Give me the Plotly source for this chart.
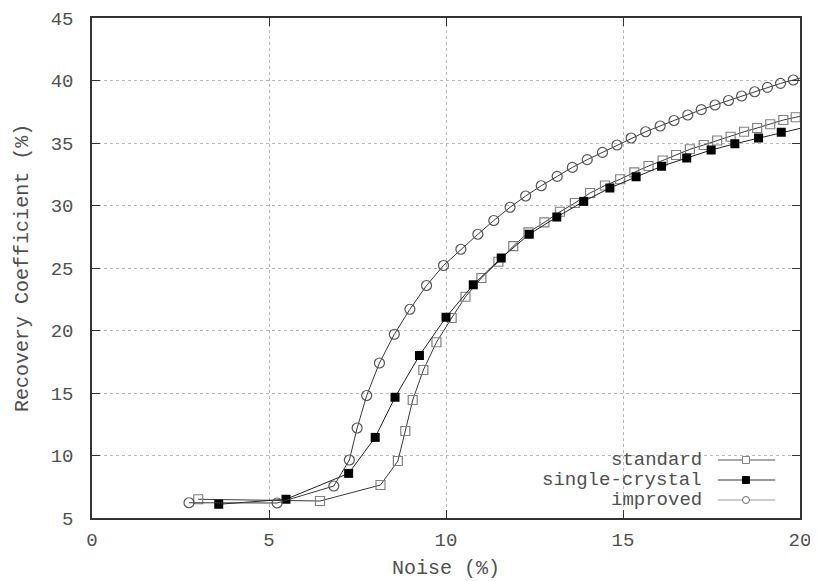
import plotly.graph_objects as go

# ---- data ----
standard_x = [3.0, 6.44, 8.15, 8.64, 8.85, 9.06, 9.36, 9.73, 10.16, 10.55, 11.0, 11.48, 11.9,
              12.33, 12.78, 13.22, 13.64, 14.07, 14.49, 14.92, 15.32, 15.72, 16.12, 16.5,
              16.89, 17.28, 17.66, 18.04, 18.42, 18.79, 19.16, 19.53, 19.88, 20.25]
standard_y = [6.5, 6.36, 7.64, 9.56, 11.96, 14.44, 16.84, 19.06, 21.0, 22.7, 24.2, 25.5, 26.75,
              27.85, 28.65, 29.5, 30.2, 31.0, 31.6, 32.1, 32.65, 33.16, 33.6, 34.04,
              34.5, 34.84, 35.2, 35.5, 35.9, 36.2, 36.5, 36.84, 37.06, 37.3]

single_x = [3.58, 5.48, 7.25, 8.0, 8.56, 9.25, 10.0, 10.77, 11.56, 12.35, 13.13, 13.89,
            14.63, 15.37, 16.09, 16.8, 17.49, 18.16, 18.83, 19.47, 20.2]
single_y = [6.1, 6.5, 8.57, 11.45, 14.66, 18.0, 21.06, 23.66, 25.8, 27.7, 29.08, 30.33,
            31.4, 32.3, 33.14, 33.8, 34.44, 34.94, 35.4, 35.86, 36.3]

improved_x = [2.74, 5.23, 6.83, 7.27, 7.49, 7.76, 8.12, 8.54, 8.98, 9.45, 9.93, 10.42, 10.9,
              11.35, 11.81, 12.25, 12.69, 13.14, 13.57, 13.99, 14.42, 14.83, 15.23, 15.64,
              16.05, 16.44, 16.83, 17.21, 17.6, 17.98, 18.35, 18.72, 19.08, 19.45, 19.81, 20.2]
improved_y = [6.22, 6.2, 7.56, 9.64, 12.2, 14.8, 17.4, 19.7, 21.7, 23.6, 25.2, 26.5, 27.7,
              28.8, 29.86, 30.76, 31.58, 32.33, 33.05, 33.67, 34.25, 34.84, 35.4, 35.9,
              36.36, 36.8, 37.24, 37.67, 38.04, 38.4, 38.76, 39.1, 39.45, 39.77, 40.04, 40.35]

series_names = ["standard", "single-crystal", "improved"]
x_ticks = [0, 5, 10, 15, 20]
y_ticks = [5, 10, 15, 20, 25, 30, 35, 40, 45]
x_title = "Noise (%)"
y_title = "Recovery Coefficient (%)"

FONT = "Liberation Mono, Courier New, monospace"
TXT = "#505050"
AX = "#333333"

fig = go.Figure()

fig.add_trace(go.Scatter(
    x=standard_x, y=standard_y, mode="lines+markers", name=series_names[0],
    line=dict(color="#3a3a3a", width=1),
    marker=dict(symbol="square-open", size=9, color="#808080", line=dict(width=1.2, color="#808080")),
    showlegend=False))
fig.add_trace(go.Scatter(
    x=single_x, y=single_y, mode="lines+markers", name=series_names[1],
    line=dict(color="#222222", width=1),
    marker=dict(symbol="square", size=9, color="#000000", line=dict(width=0)),
    showlegend=False))
fig.add_trace(go.Scatter(
    x=improved_x, y=improved_y, mode="lines+markers", name=series_names[2],
    line=dict(color="#3a3a3a", width=1),
    marker=dict(symbol="circle-open", size=10, color="#555555", line=dict(width=1.2, color="#555555")),
    showlegend=False))

shapes = []
annotations = []
# white legend box (covers grid, under traces/ticks)
shapes.append(dict(type="rect", xref="paper", yref="paper", x0=0.62, x1=1.0, y0=0.0, y1=0.142,
                   fillcolor="white", line=dict(width=0), layer="between"))

leg_y = [0.116, 0.076, 0.036]
line_cols = ["#555555", "#333333", "#9a9a9a"]
for i, name in enumerate(series_names):
    yy = leg_y[i]
    annotations.append(dict(text=name, xref="paper", yref="paper", x=0.8644, y=yy,
                            xanchor="right", yanchor="middle", showarrow=False,
                            font=dict(family=FONT, size=19, color=TXT)))
    shapes.append(dict(type="line", xref="paper", yref="paper", x0=0.884, x1=0.965, y0=yy, y1=yy,
                       line=dict(color=line_cols[i], width=1)))
    common = dict(xref="paper", yref="paper", xsizemode="pixel", ysizemode="pixel",
                  xanchor=0.9237, yanchor=yy)
    if i == 0:
        shapes.append(dict(type="rect", x0=-3.5, x1=3.5, y0=-3.5, y1=3.5,
                           fillcolor="white", line=dict(color="#808080", width=1), **common))
    elif i == 1:
        shapes.append(dict(type="rect", x0=-3.5, x1=3.5, y0=-3.5, y1=3.5,
                           fillcolor="black", line=dict(color="black", width=1), **common))
    else:
        shapes.append(dict(type="circle", x0=-3.5, x1=3.5, y0=-3.5, y1=3.5,
                           fillcolor="white", line=dict(color="#666666", width=1), **common))

# axis titles
annotations.append(dict(text=x_title, xref="paper", yref="paper", x=0.5, y=-0.10,
                        xanchor="center", yanchor="middle", showarrow=False,
                        font=dict(family=FONT, size=20, color=TXT)))
annotations.append(dict(text=y_title, xref="paper", yref="paper", x=-0.099, y=0.5,
                        xanchor="center", yanchor="middle", showarrow=False, textangle=-90,
                        font=dict(family=FONT, size=20, color=TXT)))

# the page body adds an 8px margin, so the figure is sized/offset to compensate
fig.update_layout(
    width=810, height=573,
    margin=dict(l=84, r=18, t=10, b=63),
    paper_bgcolor="white", plot_bgcolor="white",
    font=dict(family=FONT, size=19, color=TXT),
    shapes=shapes, annotations=annotations,
    showlegend=False,
)
fig.update_xaxes(
    range=[0, 20], tickvals=x_ticks, ticktext=[str(v) for v in x_ticks],
    showline=True, linecolor=AX, linewidth=1.5, mirror="ticks",
    ticks="inside", ticklen=8, tickcolor=AX, tickwidth=1.2,
    showgrid=True, gridcolor="#b8b8b8", griddash="dot", gridwidth=1,
    zeroline=False, ticklabelstandoff=3, automargin=False,
    tickfont=dict(family=FONT, size=19, color=TXT),
)
fig.update_yaxes(
    range=[5, 45], tickvals=y_ticks, ticktext=[str(v) for v in y_ticks],
    showline=True, linecolor=AX, linewidth=1.5, mirror="ticks",
    ticks="inside", ticklen=8, tickcolor=AX, tickwidth=1.2,
    showgrid=True, gridcolor="#b8b8b8", griddash="dot", gridwidth=1,
    zeroline=False, ticklabelstandoff=13, automargin=False,
    tickfont=dict(family=FONT, size=19, color=TXT),
)

fig.write_html("out.html")
